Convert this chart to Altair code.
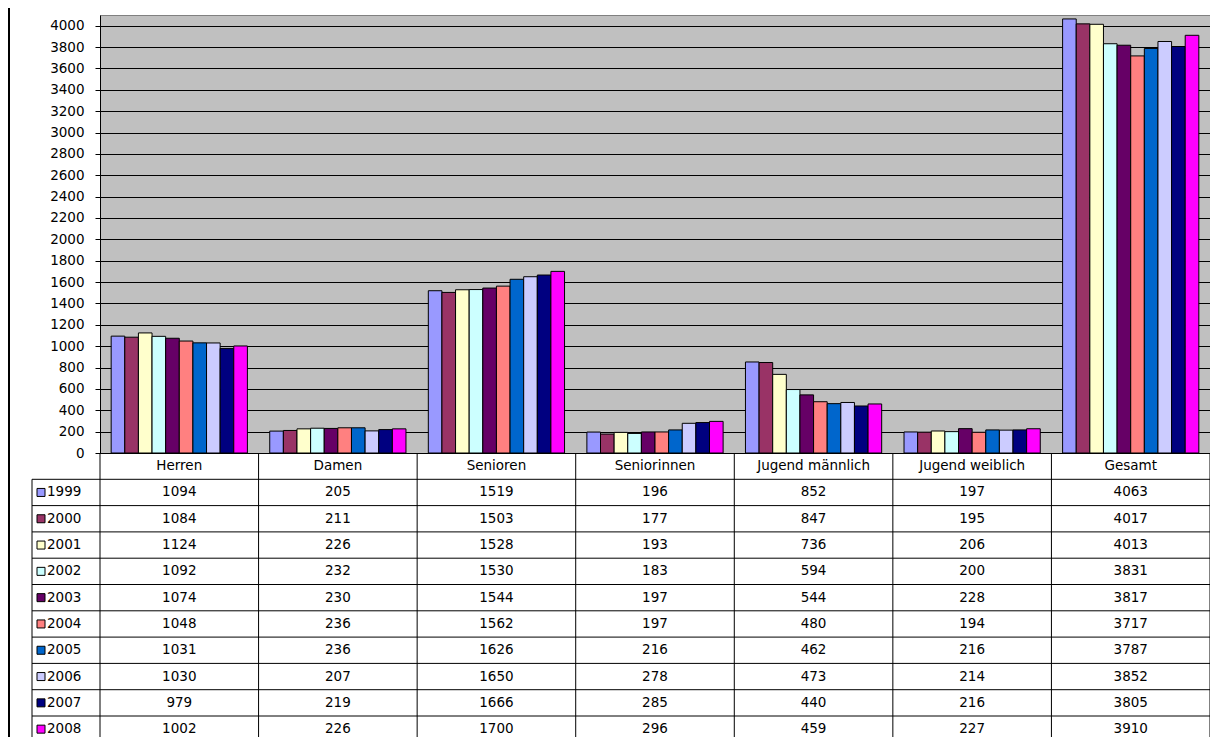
import altair as alt
import pandas as pd

title_text = "Angemeldete Spieler 1999 - 2008"
categories = ["Herren", "Damen", "Senioren", "Seniorinnen",
              "Jugend männlich", "Jugend weiblich", "Gesamt"]
years = ["1999", "2000", "2001", "2002", "2003",
         "2004", "2005", "2006", "2007", "2008"]
colors = ["#9999FF", "#993366", "#FFFFCC", "#CCFFFF", "#660066",
          "#FF8080", "#0066CC", "#CCCCFF", "#000080", "#FF00FF"]

herren = [1094, 1084, 1124, 1092, 1074, 1048, 1031, 1030, 979, 1002]
damen = [205, 211, 226, 232, 230, 236, 236, 207, 219, 226]
senioren = [1519, 1503, 1528, 1530, 1544, 1562, 1626, 1650, 1666, 1700]
seniorinnen = [196, 177, 193, 183, 197, 197, 216, 278, 285, 296]
jugend_m = [852, 847, 736, 594, 544, 480, 462, 473, 440, 459]
jugend_w = [197, 195, 206, 200, 228, 194, 216, 214, 216, 227]
gesamt = [4063, 4017, 4013, 3831, 3817, 3717, 3787, 3852, 3805, 3910]

y_ticks = list(range(0, 4001, 200))

series = [herren, damen, senioren, seniorinnen, jugend_m, jugend_w, gesamt]
records = []
for cat, vals in zip(categories, series):
    for yr, v in zip(years, vals):
        records.append({"Kategorie": cat, "Jahr": yr, "Zeile": yr,
                        "Spieler": v, "Wert": str(v)})
df = pd.DataFrame(records)
header_df = pd.DataFrame({"Kategorie": categories, "Zeile": ["Kopf"] * len(categories)})
years_df = pd.DataFrame({"Jahr": years, "Zeile": years})

W, H = 1110, 438
FONT = "DejaVu Sans"
FS = 13.5
row_domain = ["Kopf"] + years
row_range = [438, 727.3]
step = (row_range[1] - row_range[0]) / len(row_domain)

xscale = alt.Scale(domain=categories, paddingInner=0, paddingOuter=0)
x_axis = alt.Axis(title=None, labels=False, ticks=False, domain=True,
                  domainColor="black", domainWidth=1, grid=False)
color = alt.Color("Jahr:N", scale=alt.Scale(domain=years, range=colors), legend=None)


def xenc(**kw):
    return alt.X("Kategorie:N", scale=xscale, axis=x_axis, **kw)


def yrow(**kw):
    return alt.Y("Zeile:N", scale=alt.Scale(domain=row_domain, range=row_range,
                                            paddingInner=0, paddingOuter=0),
                 axis=None, **kw)


bars = alt.Chart(df).mark_bar(stroke="black", strokeWidth=1).encode(
    x=xenc(),
    xOffset=alt.XOffset("Jahr:N", scale=alt.Scale(domain=years, paddingInner=0, paddingOuter=0.82)),
    y=alt.Y("Spieler:Q", scale=alt.Scale(domain=[0, 4100], nice=False),
            axis=alt.Axis(values=y_ticks, format="d", title=None, grid=True, gridColor="black",
                          gridOpacity=1, gridWidth=1, domainColor="black", domainWidth=1,
                          tickColor="black", tickSize=5, labelPadding=11,
                          labelFont=FONT, labelFontSize=FS, labelColor="black")),
    color=color,
)

header_text = alt.Chart(header_df).mark_text(font=FONT, fontSize=FS, color="black").encode(
    x=xenc(), y=yrow(), text="Kategorie:N")

value_text = alt.Chart(df).mark_text(font=FONT, fontSize=FS, color="black").encode(
    x=xenc(), y=yrow(), text="Wert:N")

row_lines = alt.Chart(years_df).mark_rule(color="black", strokeWidth=1).encode(
    y=yrow(bandPosition=0), x=alt.value(-68), x2=alt.value(W))

col_lines = alt.Chart(header_df).mark_rule(color="black", strokeWidth=1).encode(
    x=xenc(bandPosition=0), y=alt.value(H), y2=alt.value(760))

edge_df = pd.DataFrame({"k": ["right", "left"]})
right_line = alt.Chart(edge_df.iloc[:1]).mark_rule(color="black", strokeWidth=1).encode(
    x=alt.value(W), y=alt.value(H), y2=alt.value(760))
label_left_line = alt.Chart(edge_df.iloc[1:]).mark_rule(color="black", strokeWidth=1).encode(
    x=alt.value(-68), y=alt.value(row_range[0] + step), y2=alt.value(760))

swatches = alt.Chart(years_df).mark_square(size=64, stroke="black", strokeWidth=1, opacity=1).encode(
    x=alt.value(-59), y=yrow(), color=color)

year_labels = alt.Chart(years_df).mark_text(font=FONT, fontSize=FS, color="black", align="left").encode(
    x=alt.value(-53), y=yrow(), text="Jahr:N")

border = alt.Chart(pd.DataFrame({"k": ["border"]})).mark_rule(color="black", strokeWidth=2).encode(
    x=alt.value(-91), y=alt.value(-20), y2=alt.value(760))

title = alt.Chart(pd.DataFrame({"t": [title_text]})).mark_text(
    font="Liberation Sans", fontSize=30, fontWeight="bold", color="black",
    align="center", baseline="alphabetic").encode(
    x=alt.value(530), y=alt.value(-15), text="t:N")

chart = alt.layer(
    bars, row_lines, col_lines, right_line, label_left_line,
    header_text, value_text, swatches, year_labels, border, title
).resolve_scale(y="independent").properties(
    width=W, height=H,
    autosize=alt.AutoSizeParams(type="none"),
    padding={"left": 92, "top": 7, "right": 0, "bottom": 729 - 7 - H},
    background="white",
    view=alt.ViewBackground(fill="#C0C0C0", stroke="#808080"),
).configure_view(fill="#C0C0C0", stroke="#808080")

chart.save("out.html", embed_options={"renderer": "svg", "actions": False})
